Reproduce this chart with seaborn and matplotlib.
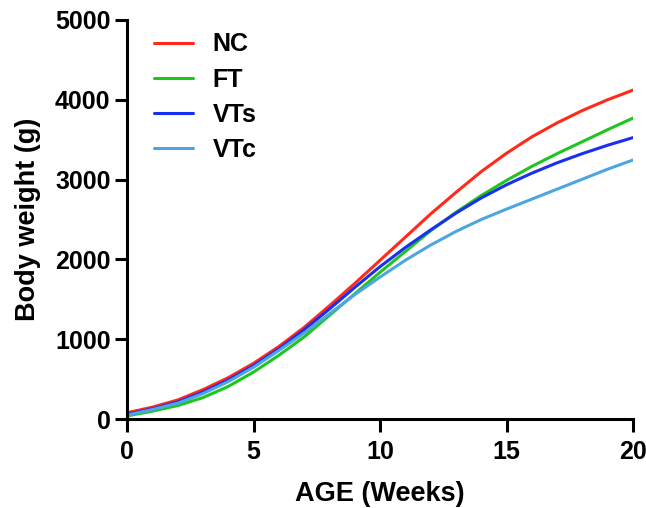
import matplotlib
matplotlib.use("Agg")
import matplotlib.pyplot as plt
import seaborn as sns
import pandas as pd

weeks = list(range(0, 21))
nc = [80, 150, 240, 370, 520, 700, 910, 1150, 1420, 1700, 1990, 2280, 2570, 2840, 3100, 3330, 3535, 3710, 3865, 4000, 4120]
ft = [40, 100, 170, 270, 410, 590, 800, 1030, 1300, 1570, 1840, 2100, 2360, 2590, 2800, 2990, 3165, 3325, 3475, 3625, 3770]
vts = [60, 130, 215, 340, 490, 670, 880, 1120, 1380, 1650, 1910, 2150, 2370, 2580, 2770, 2935, 3080, 3210, 3325, 3430, 3525]
vtc = [50, 120, 200, 320, 470, 650, 860, 1080, 1320, 1560, 1780, 1990, 2180, 2350, 2500, 2630, 2755, 2880, 3005, 3130, 3245]

groups = ["NC", "FT", "VTs", "VTc"]
colors = ["#FF2A1A", "#1FC41F", "#1A30F0", "#4DA6E0"]

df = pd.concat([
    pd.DataFrame({"week": weeks, "weight": vals, "group": g})
    for g, vals in zip(groups, [nc, ft, vts, vtc])
])

sns.set_style("ticks")
plt.rcParams["font.family"] = ["Liberation Sans", "DejaVu Sans"]
plt.rcParams["font.weight"] = "bold"
for k in ["text.color", "axes.labelcolor", "xtick.color", "ytick.color"]:
    plt.rcParams[k] = "black"

fig = plt.figure(figsize=(6.46, 5.08), dpi=100)
ax = fig.add_axes([0.197, 0.175, 0.783, 0.786])
sns.lineplot(data=df, x="week", y="weight", hue="group", hue_order=groups,
             palette=colors, linewidth=2.2, ax=ax)

ax.set_xlim(0, 20)
ax.set_ylim(0, 5000)
ax.set_xticks([0, 5, 10, 15, 20])
ax.set_yticks([0, 1000, 2000, 3000, 4000, 5000])
ax.tick_params(width=2.2, length=9, labelsize=18, color="black")
ax.tick_params(axis="x", pad=6)
ax.tick_params(axis="y", pad=3)
for lab in ax.get_xticklabels() + ax.get_yticklabels():
    lab.set_fontweight("bold")
sns.despine(ax=ax)
for s in ["left", "bottom"]:
    ax.spines[s].set_linewidth(2.2)
    ax.spines[s].set_color("black")

ax.set_xlabel("AGE (Weeks)", fontsize=19.5, fontweight="bold", labelpad=12)
ax.set_ylabel("Body weight (g)", fontsize=19.5, fontweight="bold", labelpad=10)

leg = ax.legend(loc="upper left", frameon=False, fontsize=18, handlelength=1.56,
                handletextpad=0.8, labelspacing=0.45, bbox_to_anchor=(0.008, 1.025))
for t in leg.get_texts():
    t.set_fontweight("bold")
for ln in leg.get_lines():
    ln.set_linewidth(2.2)

fig.savefig("out.png", dpi=100)
